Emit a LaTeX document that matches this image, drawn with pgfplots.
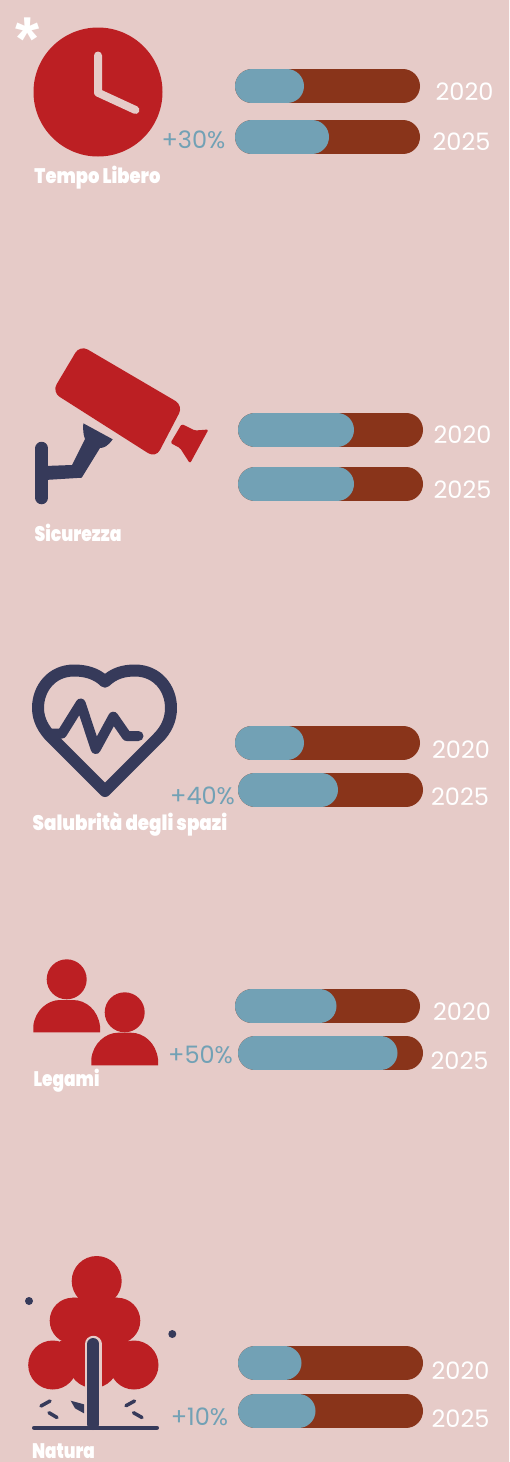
\documentclass[border=0pt]{standalone}
\usepackage{graphicx}
\usepackage{fontspec}
\usepackage{pgfplots}
\pgfplotsset{compat=1.18}
\setmainfont{Poppins}
\newfontfamily\heavyf{Poppins Black}
\newfontfamily\starf{Liberation Sans}
\definecolor{bg}{HTML}{E6CBC8}
\definecolor{ired}{HTML}{BC1F23}
\definecolor{brown}{HTML}{89341A}
\definecolor{bblue}{HTML}{72A1B5}
\definecolor{navy}{HTML}{363A5A}
\newcommand{\yr}[3]{\node[text=white,anchor=center,inner sep=0pt] at (axis cs:#1,#2) {\fontsize{24}{24}\selectfont #3};}
\newcommand{\pct}[3]{\node[text=bblue,anchor=center,inner sep=0pt] at (axis cs:#1,#2) {\fontsize{24}{24}\selectfont #3};}
\newcommand{\lab}[4]{\node[text=white,anchor=base,inner sep=0pt] at (axis cs:#1,#2) {\scalebox{#4}[1]{\heavyf\fontsize{21}{21}\selectfont #3}};}
\pgfplotsset{
  track/.style={no markers,color=brown,line width=34pt,line cap=round},
  fillbar/.style={no markers,color=bblue,line width=34pt,line cap=round},
}
\begin{document}
\begin{tikzpicture}
\begin{axis}[
  scale only axis,width=509pt,height=1462pt,
  xmin=0,xmax=509,ymin=0,ymax=1462,y dir=reverse,
  hide axis,clip=true,
]
% background
\addplot[draw=none,fill=bg] coordinates {(0,0)(509,0)(509,1462)(0,1462)} \closedcycle;

% --- bars: track from start to end, blue part to the value
\addplot[track] coordinates {(252,86.3)(403,86.3)};
\addplot[fillbar] coordinates {(252,86.3)(287,86.3)};
\addplot[track] coordinates {(252,137)(403,137)};
\addplot[fillbar] coordinates {(252,137)(312,137)};

\addplot[track] coordinates {(255,429.7)(406,429.7)};
\addplot[fillbar] coordinates {(255,429.7)(337,429.7)};
\addplot[track] coordinates {(255,484)(406,484)};
\addplot[fillbar] coordinates {(255,484)(337,484)};

\addplot[track] coordinates {(252,742.5)(403,742.5)};
\addplot[fillbar] coordinates {(252,742.5)(287,742.5)};
\addplot[track] coordinates {(255,789.5)(406,789.5)};
\addplot[fillbar] coordinates {(255,789.5)(321,789.5)};

\addplot[track] coordinates {(252,1006.3)(403,1006.3)};
\addplot[fillbar] coordinates {(252,1006.3)(319.5,1006.3)};
\addplot[track] coordinates {(255,1053)(406,1053)};
\addplot[fillbar] coordinates {(255,1053)(380.5,1053)};

\addplot[track] coordinates {(255,1363)(406,1363)};
\addplot[fillbar] coordinates {(255,1363)(284.5,1363)};
\addplot[track] coordinates {(255,1411)(406,1411)};
\addplot[fillbar] coordinates {(255,1411)(298.5,1411)};

% --- year labels
\yr{464.5}{91.5}{2020}\yr{461.5}{142}{2025}
\yr{462.5}{435}{2020}\yr{462.5}{490}{2025}
\yr{461}{750}{2020}\yr{460}{797}{2025}
\yr{462}{1012}{2020}\yr{459.5}{1061}{2025}
\yr{460.5}{1371}{2020}\yr{460.5}{1419}{2025}

% --- percent labels
\pct{193.5}{140}{+30\%}
\pct{202.5}{796}{+40\%}
\pct{200.5}{1055}{+50\%}
\pct{199.5}{1417}{+10\%}

% --- category labels
\lab{97.5}{183}{Tempo Libero}{.855}
\lab{78}{541}{Sicurezza}{.82}
\lab{130}{830.5}{Salubrità degli spazi}{.87}
\lab{66.5}{1086.5}{Legami}{.81}
\lab{63.5}{1458}{Natura}{.8}

% asterisk
\node[text=white,anchor=base,inner sep=0pt] at (axis cs:28,60) {\starf\bfseries\fontsize{62}{62}\selectfont *};

% --- clock icon
\fill[ired] (axis cs:98,92) circle[radius=64.5pt];
\draw[bg,line width=8pt,line cap=round,line join=round] (axis cs:98,55.5)--(axis cs:98,92.7)--(axis cs:135.5,110);

% --- camera icon
\fill[ired,rounded corners=9pt] (axis cs:80,345)--(axis cs:183.2,405.5)--(axis cs:155.8,458)--(axis cs:52,392)--cycle;
\fill[ired,rounded corners=1.5pt] (axis cs:181.7,424)--(axis cs:195,430.5)--(axis cs:208.5,429.5)--(axis cs:190,463.5)--(axis cs:180,448)--(axis cs:170.5,443)--cycle;
\draw[navy,line width=13.5pt,line cap=round] (axis cs:41.7,448.5)--(axis cs:41.7,497.5);
\fill[navy] (axis cs:45,466)--(axis cs:72,465)--(axis cs:85,439) .. controls (axis cs:83,434) and (axis cs:83,429) .. (axis cs:83.3,423.3)--(axis cs:112.7,439.3) .. controls (axis cs:108,446) and (axis cs:104,448) .. (axis cs:100,448)--(axis cs:81.7,477.7)--(axis cs:45,480)--cycle;

% --- heart icon
\draw[navy,line width=12pt,line join=round,line cap=round]
 (axis cs:105,681.7) .. controls (axis cs:96,673) and (axis cs:85,670.5) .. (axis cs:74,670.5)
 .. controls (axis cs:52,670.5) and (axis cs:38,688) .. (axis cs:38,708)
 .. controls (axis cs:38,720) and (axis cs:44,730) .. (axis cs:52,738)
 -- (axis cs:105,791) -- (axis cs:158,738)
 .. controls (axis cs:166,730) and (axis cs:171,720) .. (axis cs:171,708)
 .. controls (axis cs:171,688) and (axis cs:157,670.5) .. (axis cs:135,670.5)
 .. controls (axis cs:124,670.5) and (axis cs:114,673) .. cycle;
\draw[navy,line width=10pt,line join=round,line cap=round]
 (axis cs:52,733.5)--(axis cs:62,733.5)--(axis cs:80.7,703.5)--(axis cs:95.7,749)--(axis cs:113.3,716.7)--(axis cs:126.7,736)--(axis cs:138.5,736);

% --- people icon
\fill[ired] (axis cs:66.7,979.3) circle[radius=20pt];
\fill[ired] (axis cs:33.3,1032.3)--(axis cs:33.3,1026) .. controls (axis cs:35,1010) and (axis cs:48,1000) .. (axis cs:60,1000)--(axis cs:73,1000) .. controls (axis cs:86,1000) and (axis cs:98,1010) .. (axis cs:100,1026)--(axis cs:100,1032.3)--cycle;
\fill[ired] (axis cs:124.7,1012.3) circle[radius=20pt];
\fill[ired] (axis cs:91.3,1065.3)--(axis cs:91.3,1059) .. controls (axis cs:93,1043) and (axis cs:106,1032.7) .. (axis cs:118,1032.7)--(axis cs:131,1032.7) .. controls (axis cs:144,1032.7) and (axis cs:156,1043) .. (axis cs:158,1059)--(axis cs:158,1065.3)--cycle;

% --- tree icon
\fill[ired] (axis cs:96.7,1281) circle[radius=25pt];
\fill[ired] (axis cs:72.7,1320.7) circle[radius=23pt];
\fill[ired] (axis cs:117.3,1320.7) circle[radius=23pt];
\fill[ired] (axis cs:72.7,1297.7)--(axis cs:117.3,1297.7)--(axis cs:120,1345)--(axis cs:70,1345)--cycle;
\fill[ired] (axis cs:52.7,1365) circle[radius=24.5pt];
\fill[ired] (axis cs:134,1365) circle[radius=24.5pt];
\fill[ired] (axis cs:93.3,1363) circle[radius=25pt];
\fill[ired] (axis cs:60,1341)--(axis cs:128,1341)--(axis cs:128,1372)--(axis cs:60,1372)--cycle;
\draw[bg,line width=16.5pt,line cap=round] (axis cs:93.3,1344)--(axis cs:93.3,1380);
\draw[bg,line width=16.5pt] (axis cs:93.3,1380)--(axis cs:93.3,1390);
\draw[navy,line width=12pt,line cap=round] (axis cs:93.3,1344)--(axis cs:93.3,1424);
\draw[navy,line width=4pt,line cap=round] (axis cs:34,1427.7)--(axis cs:157,1427.7);
\fill[navy] (axis cs:29,1301) circle[radius=4pt];
\fill[navy] (axis cs:172.3,1334) circle[radius=4pt];
\draw[navy,line width=3.5pt,line cap=round] (axis cs:41,1406)--(axis cs:50,1401);
\draw[navy,line width=3.5pt,line cap=round] (axis cs:49,1412.7)--(axis cs:57,1417.5);
\draw[navy,line width=3.5pt,line cap=round] (axis cs:126,1405.7)--(axis cs:134.5,1401);
\draw[navy,line width=3.5pt,line cap=round] (axis cs:133.5,1412.7)--(axis cs:142,1417.5);
\fill[navy] (axis cs:70.7,1400.7)--(axis cs:84,1404.3)--(axis cs:84,1413.3)--(axis cs:75,1408.3)--cycle;
\end{axis}
\end{tikzpicture}
\end{document}
